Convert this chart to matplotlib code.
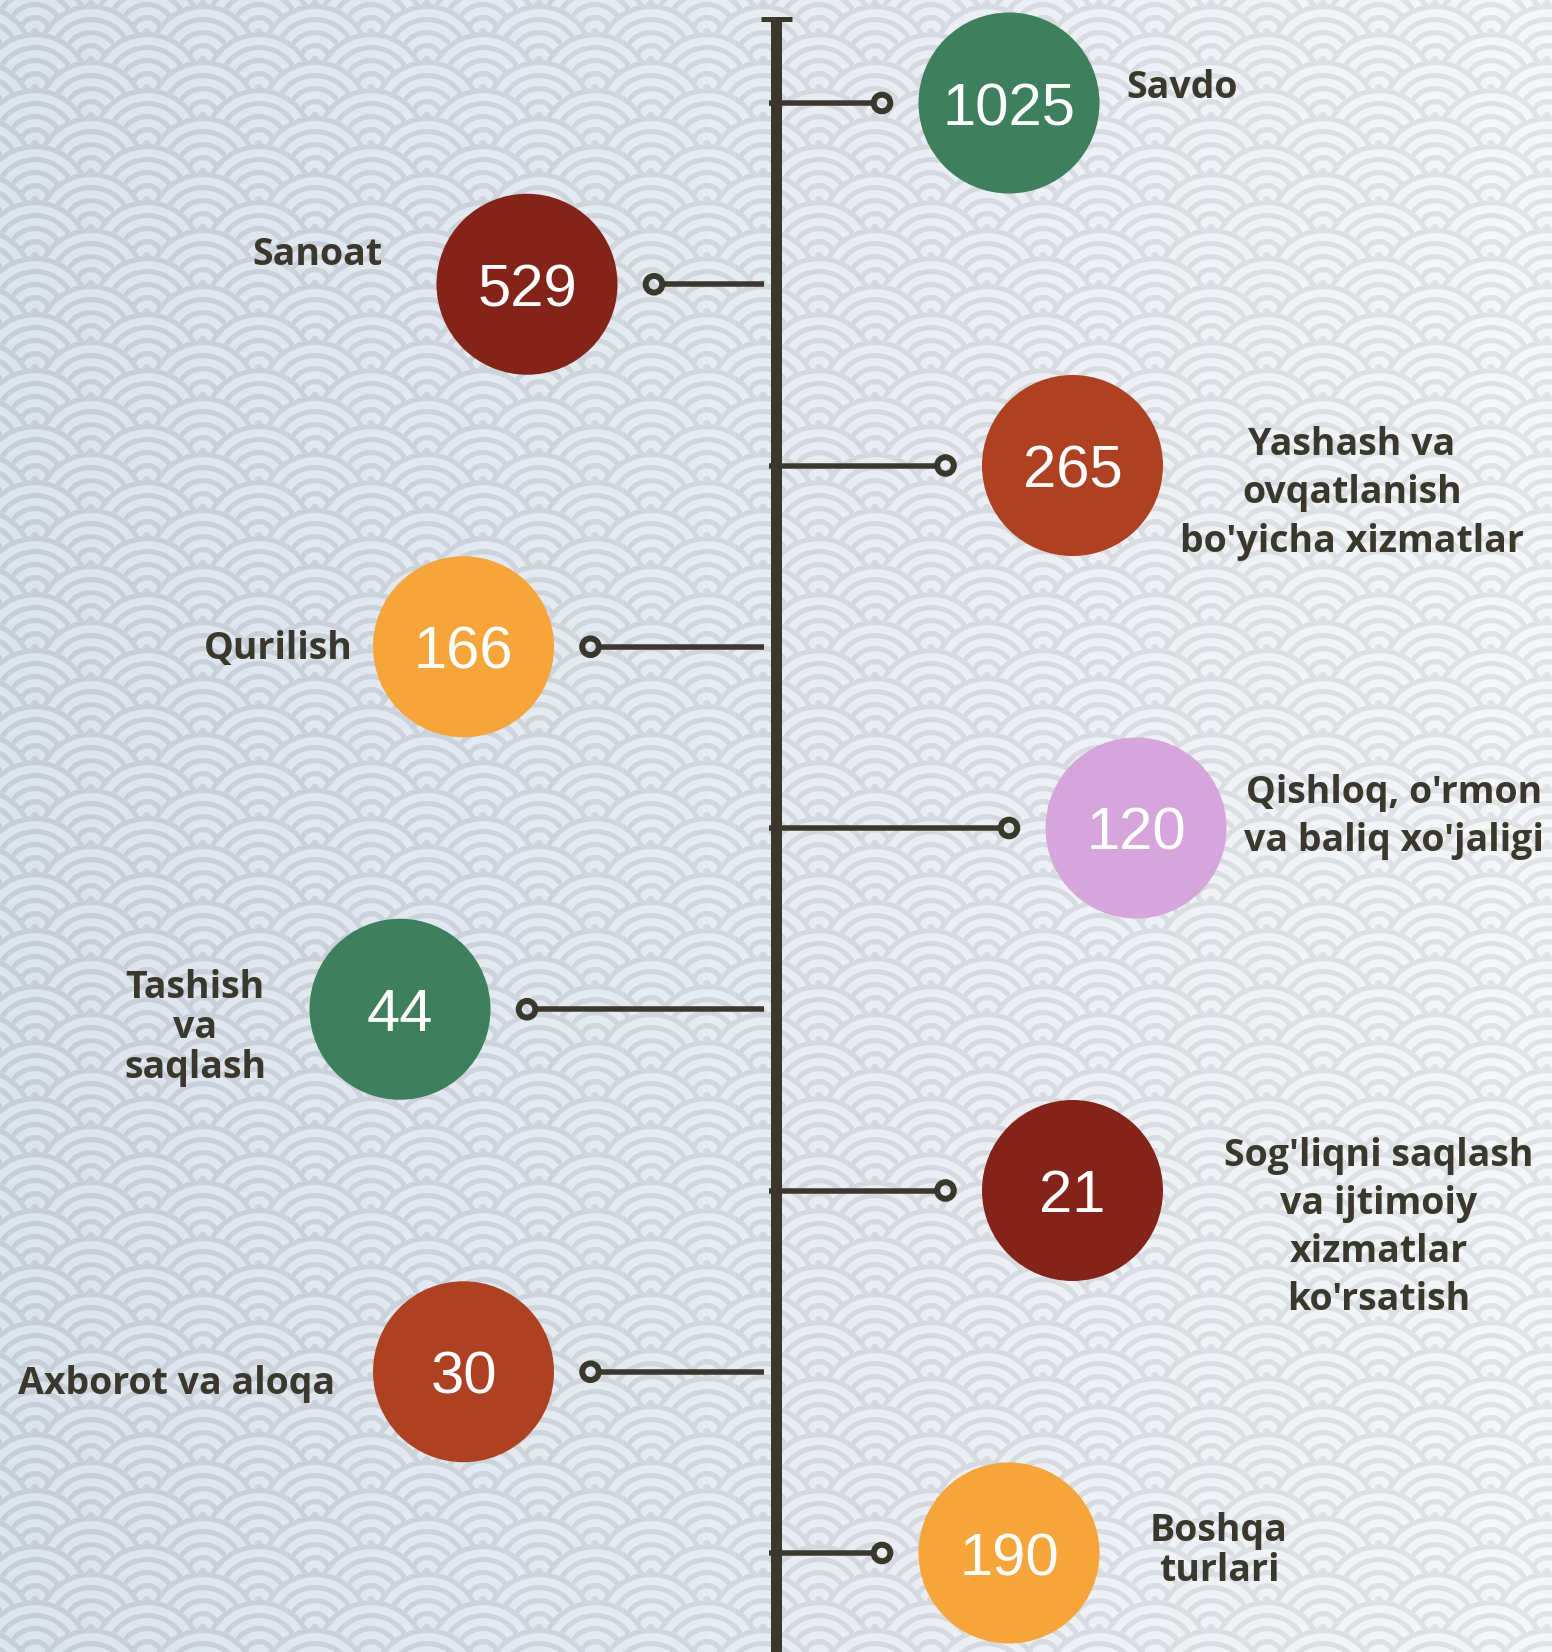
from __future__ import annotations

import matplotlib

matplotlib.use("Agg")
import matplotlib.pyplot as plt
import numpy as np
from matplotlib.patches import Circle

CATEGORIES = [
    "Savdo",
    "Sanoat",
    "Yashash va\novqatlanish\nbo'yicha xizmatlar",
    "Qurilish",
    "Qishloq, o'rmon\nva baliq xo'jaligi",
    "Tashish\nva\nsaqlash",
    "Sog'liqni saqlash\nva ijtimoiy\nxizmatlar\nko'rsatish",
    "Axborot va aloqa",
    "Boshqa\nturlari",
]
VALUES = [1025, 529, 265, 166, 120, 44, 21, 30, 190]
COLORS = [
    "#3e7f5e", "#84231a", "#ae4122", "#f6a53a", "#d5a5db",
    "#3e7f5e", "#84231a", "#ae4122", "#f6a53a",
]

W, H = 1552, 1652
AXIS_X = 776
TOP_Y, STEP = 103, 181.25
INDENT = [0, 0, 1, 1, 2, 2, 1, 1, 0]
R = 90.5
DOT_GAP = 127
INK = "#3a382d"

# label anchor: (ha, x, first baseline, line step)
LABEL_POS = [
    ("left", 1126, 98, 0),
    ("right", 382, 265, 0),
    ("center", 1352, 455, 48.5),
    ("right", 353, 659, 0),
    ("center", 1394, 803, 48),
    ("center", 195, 998, 40),
    ("center", 1379, 1166, 48),
    ("right", 335, 1394, 0),
    ("center", 1219, 1541, 40),
]


def seigaiha_background(width: int, height: int) -> np.ndarray:
    yy, xx = np.mgrid[0:height, 0:width].astype(float) + 0.5
    radius, x0, y0 = 56.0, 35.0, 32.0
    dist = np.full((height, width), radius)
    for row in range(-2, int(height / (radius / 2)) + 4):
        cy = y0 + row * radius / 2
        off = x0 + (row % 2) * radius
        cx = np.round((xx - off) / (2 * radius)) * 2 * radius + off
        d = np.hypot(xx - cx, yy - cy)
        inside = d < radius
        dist[inside] = d[inside]

    period, half = 13.0, 2.6
    u = radius - 2.6 - dist
    band = np.abs(u - period * np.round(u / period))
    ink = np.clip(half + 0.5 - band, 0, 1)[..., None]

    t = np.clip(xx / width, 0, 1)[..., None] ** 1.1
    bg_left, bg_right = np.array([220, 228, 237]), np.array([246, 247, 249])
    ln_left, ln_right = np.array([198, 206, 215]), np.array([225, 227, 230])
    bg = bg_left * (1 - t) + bg_right * t
    ln = ln_left * (1 - t) + ln_right * t
    return (bg * (1 - ink) + ln * ink) / 255.0


def main() -> None:
    fig = plt.figure(figsize=(W / 100, H / 100), dpi=100)
    ax = fig.add_axes([0, 0, 1, 1])
    ax.imshow(seigaiha_background(W, H), extent=(0, W, H, 0), aspect="auto", zorder=0)

    ax.plot([AXIS_X, AXIS_X], [17, H], color=INK, lw=11 * 0.72, solid_capstyle="butt", zorder=2)
    ax.plot([AXIS_X - 15, AXIS_X + 16], [19, 19], color=INK, lw=5 * 0.72, solid_capstyle="butt", zorder=2)

    label_font = ["Open Sans", "DejaVu Sans"]
    for i, (name, value, color) in enumerate(zip(CATEGORIES, VALUES, COLORS)):
        y = TOP_Y + i * STEP
        right = i % 2 == 0
        if right:
            cx = AXIS_X + 233 + INDENT[i] * 63.5
            dot_x = cx - DOT_GAP
            ax.plot([AXIS_X - 7, dot_x - 9], [y, y], color=INK, lw=5.5 * 0.72,
                    solid_capstyle="butt", zorder=2)
        else:
            cx = AXIS_X - 249 - INDENT[i] * 63.5
            dot_x = cx + DOT_GAP
            ax.plot([dot_x + 9, AXIS_X - 12], [y, y], color=INK, lw=5.5 * 0.72,
                    solid_capstyle="butt", zorder=2)

        ax.add_patch(Circle((dot_x, y), 8.3, facecolor="none", edgecolor=INK, lw=6 * 0.72, zorder=3))
        ax.add_patch(Circle((cx, y), R, facecolor=color, edgecolor="none", zorder=3))
        ax.text(cx, y + 22, str(value), ha="center", va="baseline", color="white",
                fontsize=43, family=["Liberation Sans", "DejaVu Sans"], zorder=4)

        ha, lx, base, line_step = LABEL_POS[i]
        for k, line in enumerate(name.split("\n")):
            ax.text(lx, base + k * line_step, line, ha=ha, va="baseline", color=INK,
                    fontsize=27, fontweight="bold", family=label_font, zorder=4)

    ax.set_xlim(0, W)
    ax.set_ylim(H, 0)
    ax.axis("off")
    fig.savefig("out.png", dpi=100)
    plt.close(fig)


if __name__ == "__main__":
    main()
